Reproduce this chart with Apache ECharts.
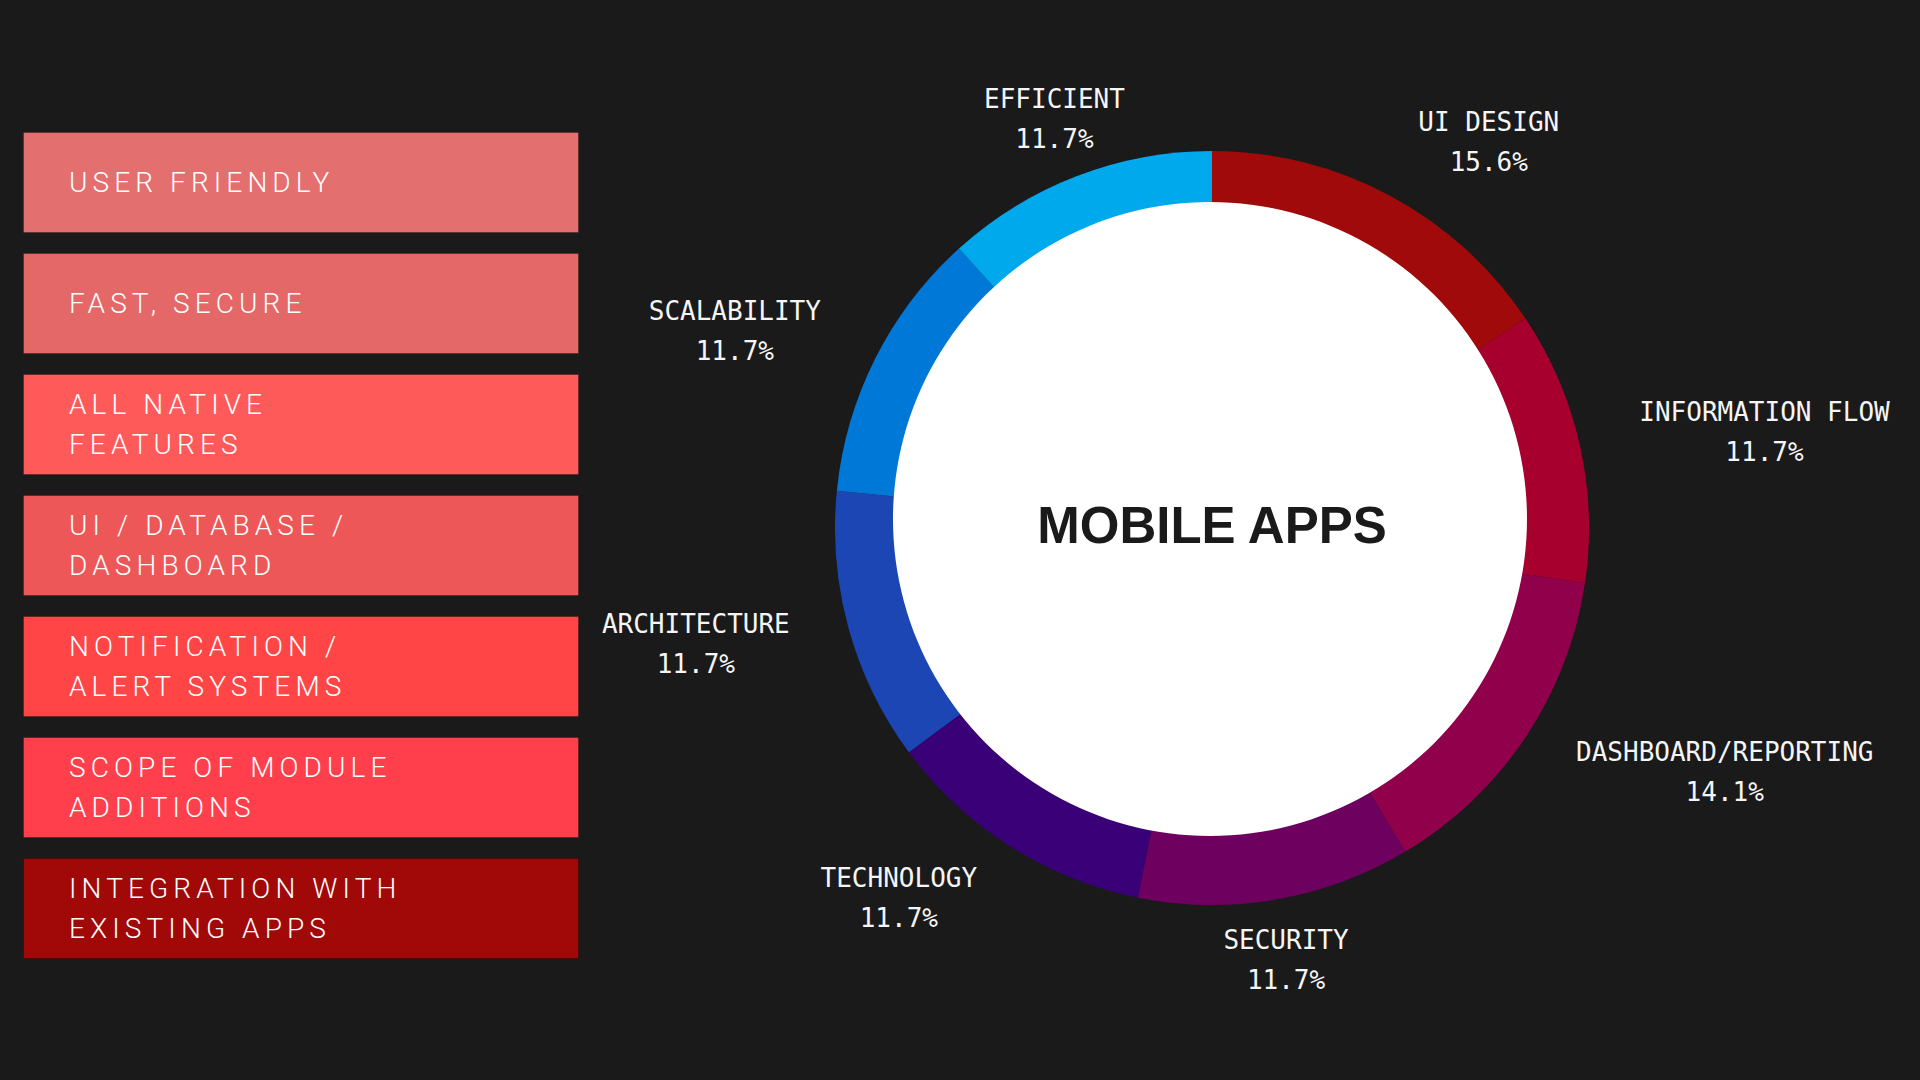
<!DOCTYPE html>
<html><head><meta charset="utf-8">
<style>
html,body{margin:0;padding:0;background:#1a1a1a;}
#chart{width:1920px;height:1080px;}
#chart text[style*="Roboto"]{letter-spacing:5.1px;}
</style>
<script src="https://cdn.jsdelivr.net/npm/echarts@6/dist/echarts.min.js"></script>
</head><body><div id="chart"></div>
<script>
const featureLabels = ['USER FRIENDLY','FAST, SECURE','ALL NATIVE\nFEATURES','UI / DATABASE /\nDASHBOARD','NOTIFICATION /\nALERT SYSTEMS','SCOPE OF MODULE\nADDITIONS','INTEGRATION WITH\nEXISTING APPS'];
const featureValues = [1,1,1,1,1,1,1];
const featureColors = ['#E36F6F','#E46868','#FF5A5A','#EE5757','#FF4545','#FF404C','#A10808'];
const segmentNames = ['UI DESIGN','INFORMATION FLOW','DASHBOARD/REPORTING','SECURITY','TECHNOLOGY','ARCHITECTURE','SCALABILITY','EFFICIENT'];
const segmentValues = [15.6,11.7,14.1,11.7,11.7,11.7,11.7,11.7];
const segmentColors = ['#A00A0A','#A8002E','#91004B','#6E005F','#3A0078','#1C46B4','#0078D7','#00A8EC'];
const centerTitle = 'MOBILE APPS';

const total = segmentValues.reduce((a,b)=>a+b,0);
function midCos(i){
  let cum=0; for(let k=0;k<i;k++) cum+=segmentValues[k];
  const a=(90-(cum+segmentValues[i]/2)/total*360)*Math.PI/180;
  return Math.cos(a);
}
const monoStyle = {fontFamily:'DejaVu Sans Mono', fontSize:26, color:'#f5f5f5', lineHeight:40, align:'center'};

const chart = echarts.init(document.getElementById('chart'), null, {renderer:'svg'});
chart.setOption({
  backgroundColor:'#1a1a1a',
  animation:false,
  grid:{left:23, top:122, width:556, height:847},
  xAxis:{type:'value', min:0, max:1, show:false},
  yAxis:{type:'category', data:featureLabels, inverse:true, show:false},
  series:[
    {
      type:'bar', silent:true, barWidth:101,
      data: featureValues.map((v,i)=>({value:v, itemStyle:{color:featureColors[i]}})),
      itemStyle:{borderColor:'rgba(0,0,0,0.25)', borderWidth:1},
      label:{show:true, position:'insideLeft', distance:46, formatter:p=>p.name,
        color:'#ffffff', fontFamily:'Roboto', fontSize:28, fontWeight:300, lineHeight:40}
    },
    {
      type:'pie', center:[1212,528], radius:[0,377], startAngle:90, clockwise:true,
      avoidLabelOverlap:false, silent:true, emphasis:{disabled:true},
      itemStyle:{borderWidth:0},
      data: segmentNames.map((n,i)=>({name:n, value:segmentValues[i], itemStyle:{color:segmentColors[i]}})),
      label:{show:true, position:'outside', distanceToLabelLine:0,
        formatter:p=>'{n|'+p.name+'}\n{v|'+p.value.toFixed(1)+'%}',
        rich:{n:monoStyle, v:monoStyle}},
      labelLine:{show:false, length:61, length2:0},
      labelLayout:function(p){
        return Math.abs(midCos(p.dataIndex))<0.4 ? {align:'center'} : {};
      }
    },
    {
      type:'pie', center:[1210,519], radius:[0,317], silent:true, emphasis:{disabled:true},
      itemStyle:{borderWidth:0},
      data:[{name:centerTitle, value:1, itemStyle:{color:'#ffffff'}}],
      label:{show:true, position:'center', formatter:centerTitle,
        fontFamily:'Liberation Sans', fontWeight:'bold', fontSize:51, color:'#1a1a1a', offset:[2,6]},
      labelLine:{show:false}
    }
  ]
});
</script>
</body></html>
